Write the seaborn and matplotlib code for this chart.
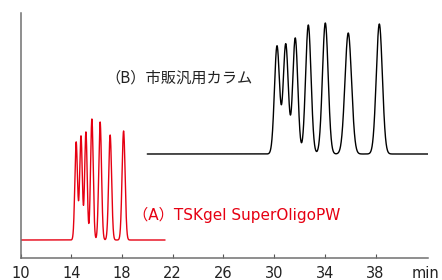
import numpy as np
import pandas as pd
import matplotlib
matplotlib.use("Agg")
import matplotlib.pyplot as plt
import seaborn as sns

# --- data (retention time in min, peak height in px-units) ---
red_rt = [14.39, 14.77, 15.16, 15.63, 16.28, 17.07, 18.13]
red_height = [98, 104, 108, 121, 118, 105, 109]
red_sigma = [0.105, 0.105, 0.10, 0.105, 0.11, 0.115, 0.12]
red_baseline = 18
red_range = [10.0, 21.4]

black_rt = [30.23, 30.92, 31.67, 32.70, 34.04, 35.85, 38.30]
black_height = [108, 110, 116, 129, 131, 121, 130]
black_sigma = [0.20, 0.20, 0.20, 0.215, 0.225, 0.26, 0.24]
black_baseline = 104
black_range = [20.0, 42.14]

xticks = [10, 14, 18, 22, 26, 30, 34, 38]
label_a = "（A）TSKgel SuperOligoPW"
label_b = "（B）市販汎用カラム"


def trace(rt, h, s, base, rng):
    t = np.linspace(rng[0], rng[1], 5000)
    y = np.full_like(t, float(base))
    for r, hh, ss in zip(rt, h, s):
        y += hh * np.exp(-0.5 * ((t - r) / ss) ** 2)
    return pd.DataFrame({"time": t, "signal": y})


red_df = trace(red_rt, red_height, red_sigma, red_baseline, red_range)
black_df = trace(black_rt, black_height, black_sigma, black_baseline, black_range)

sns.set_theme(style="white")
plt.rcParams["font.family"] = ["DejaVu Sans", "Noto Sans CJK JP"]

fig = plt.figure(figsize=(4.42, 2.8), dpi=100)
ax = fig.add_axes([20.5 / 442, 22 / 280, (428 - 20.5) / 442, (258 - 13) / 280])

red = "#e60012"
sns.lineplot(data=red_df, x="time", y="signal", ax=ax, color=red, lw=1.0, estimator=None, sort=False)
sns.lineplot(data=black_df, x="time", y="signal", ax=ax, color="black", lw=1.0, estimator=None, sort=False)

ax.set_xlim(10, 42.14)
ax.set_ylim(0, 245)
ax.set_xticks(xticks)
ax.set_xticklabels([str(v) for v in xticks])
ax.set_yticks([])
ax.set_xlabel("")
ax.set_ylabel("")
for side in ["top", "right"]:
    ax.spines[side].set_visible(False)
for side in ["left", "bottom"]:
    ax.spines[side].set_color("#707070")
    ax.spines[side].set_linewidth(1.1)
ax.tick_params(axis="x", direction="in", length=3, width=0.8, color="#555555",
               labelsize=10.5, pad=5.5, labelcolor="#222222", bottom=True)

ax.annotate("min", xy=(41.98, 0), xycoords="data", xytext=(0, -5.5), textcoords="offset points",
            ha="center", va="top", fontsize=10.5, color="#222222", annotation_clip=False)

ax.text(16.72, 180, label_b, fontsize=11, color="#222222", ha="left", va="center",
        family=["Noto Sans CJK JP", "DejaVu Sans"])
ax.text(18.85, 43, label_a, fontsize=11, color=red, ha="left", va="center",
        family=["DejaVu Sans", "Noto Sans CJK JP"])

fig.savefig("out.png", dpi=100)
